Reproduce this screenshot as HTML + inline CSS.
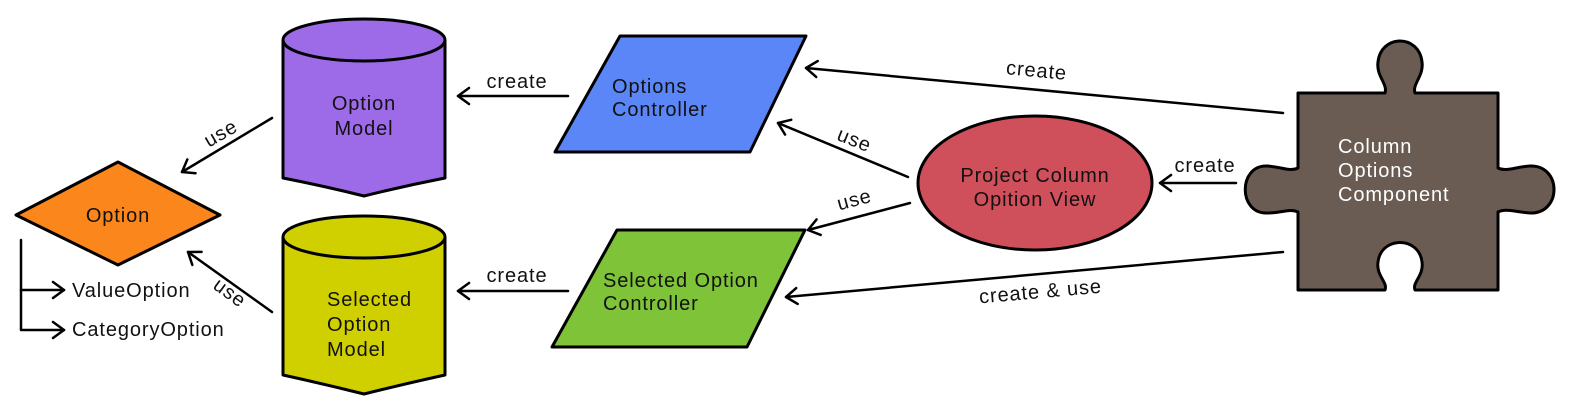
<!DOCTYPE html>
<html><head><meta charset="utf-8"><style>
html,body{margin:0;padding:0;background:#fff;}
svg{display:block;}
text{font-family:"Liberation Sans",sans-serif;font-size:20px;letter-spacing:0.9px;fill:#111;}
</style></head><body>
<svg width="1572" height="414" viewBox="0 0 1572 414" xmlns="http://www.w3.org/2000/svg">
<defs>
<marker id="a" viewBox="-14 -10 16 20" markerWidth="16" markerHeight="20" refX="0" refY="0" orient="auto" markerUnits="userSpaceOnUse">
<path d="M-11,-8 L0,0 L-11,8" fill="none" stroke="#000" stroke-width="2.5" stroke-linecap="round" stroke-linejoin="round"/>
</marker>
</defs>
<g stroke="#000" stroke-width="3" stroke-linejoin="round">
<path d="M283,40 A81,21 0 0 1 445,40 L445,178 Q404,186 364,196 Q324,186 283,178 Z" fill="#9d6ae8"/>
<path d="M283,40 A81,21 0 0 0 445,40" fill="none"/>
<path d="M283,237 A81,21 0 0 1 445,237 L445,375 Q404,384 364,394 Q324,384 283,375 Z" fill="#d0d000"/>
<path d="M283,237 A81,21 0 0 0 445,237" fill="none"/>
<polygon points="16,215 118,162 220,215 118,265" fill="#fb861c"/>
<polygon points="555,152 620,36 806,36 750,152" fill="#5a86f7"/>
<polygon points="552,347 617,230 805,230 747,347" fill="#7ec338"/>
<ellipse cx="1035" cy="183" rx="117" ry="67" fill="#cf4f5b"/>
<path d="M1298,93 L1385,93 C1388,84 1376,76 1378,62 C1381,34 1419,34 1422,62 C1424,76 1412,84 1415,93 L1498,93 L1498,168 C1506,172 1515,167 1530,166 C1562,165 1562,214 1530,213 C1515,212 1506,208 1498,212 L1498,290 L1415,290 C1412,282 1424,276 1422,262 C1419,236 1381,236 1378,262 C1376,276 1388,282 1385,290 L1298,290 L1298,212 C1290,208 1282,213 1267,213 C1238,214 1238,165 1267,166 C1282,167 1290,172 1298,168 Z" fill="#6b5c53"/>
</g>
<g stroke="#000" stroke-width="2.5" fill="none" stroke-linecap="round" stroke-linejoin="round">
<path d="M21,240 L21,330 L64,330" marker-end="url(#a)"/>
<path d="M21,290 L64,290" marker-end="url(#a)"/>
<path d="M1283,113 L806,68" marker-end="url(#a)"/>
<path d="M908,177 L778,123" marker-end="url(#a)"/>
<path d="M910,203 L808,230" marker-end="url(#a)"/>
<path d="M1236,183 L1160,183" marker-end="url(#a)"/>
<path d="M1283,252 L786,297" marker-end="url(#a)"/>
<path d="M568,96 L458,96" marker-end="url(#a)"/>
<path d="M568,291 L458,291" marker-end="url(#a)"/>
<path d="M272,118 L182,172" marker-end="url(#a)"/>
<path d="M272,312 L188,252" marker-end="url(#a)"/>
</g>
<text x="364" y="110" text-anchor="middle">Option</text>
<text x="364" y="135" text-anchor="middle">Model</text>
<text x="327" y="306">Selected</text>
<text x="327" y="331">Option</text>
<text x="327" y="356">Model</text>
<text x="118" y="222" text-anchor="middle">Option</text>
<text x="72" y="297">ValueOption</text>
<text x="72" y="336">CategoryOption</text>
<text x="612" y="93">Options</text>
<text x="612" y="116">Controller</text>
<text x="603" y="287">Selected Option</text>
<text x="603" y="310">Controller</text>
<text x="1035" y="182" text-anchor="middle">Project Column</text>
<text x="1035" y="206" text-anchor="middle">Opition View</text>
<text x="1338" y="153" style="fill:#fff">Column</text>
<text x="1338" y="177" style="fill:#fff">Options</text>
<text x="1338" y="201" style="fill:#fff">Component</text>
<text x="517" y="88" text-anchor="middle">create</text>
<text x="517" y="282" text-anchor="middle">create</text>
<text x="1205" y="172" text-anchor="middle">create</text>
<text transform="translate(1036,77) rotate(5.4)" text-anchor="middle">create</text>
<text transform="translate(852,146) rotate(22)" text-anchor="middle">use</text>
<text transform="translate(856,206) rotate(-15)" text-anchor="middle">use</text>
<text transform="translate(1041,298) rotate(-5)" text-anchor="middle">create &amp; use</text>
<text transform="translate(224,139) rotate(-30)" text-anchor="middle">use</text>
<text transform="translate(226,298) rotate(36)" text-anchor="middle">use</text>
</svg>
</body></html>
